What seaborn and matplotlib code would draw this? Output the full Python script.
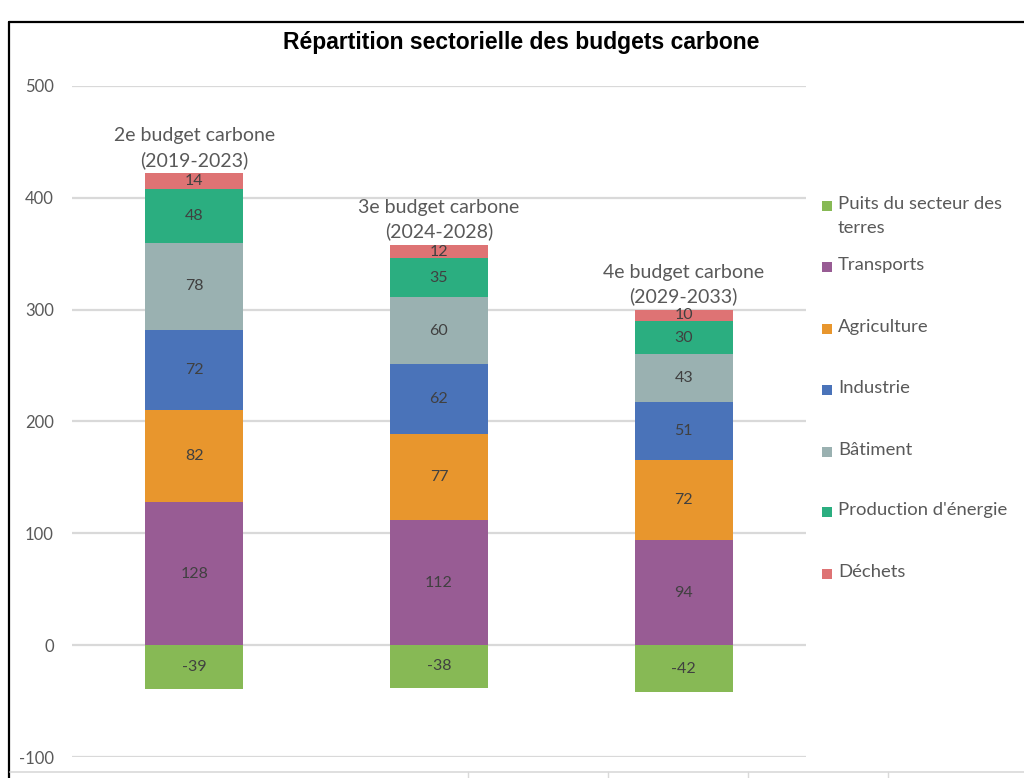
import matplotlib
matplotlib.use("Agg")
import matplotlib.pyplot as plt
from matplotlib.lines import Line2D
from matplotlib.patches import Rectangle
import numpy as np
import pandas as pd
import seaborn as sns

# ---- data -------------------------------------------------------------
budgets = ["2e budget carbone\n(2019-2023)",
           "3e budget carbone\n(2024-2028)",
           "4e budget carbone\n(2029-2033)"]
puits = [-39, -38, -42]
transports = [128, 112, 94]
agriculture = [82, 77, 72]
industrie = [72, 62, 51]
batiment = [78, 60, 43]
production = [48, 35, 30]
dechets = [14, 12, 10]

stack_names = ["Transports", "Agriculture", "Industrie", "Bâtiment",
               "Production d'énergie", "Déchets"]
stack_values = [transports, agriculture, industrie, batiment, production, dechets]
legend_labels = ["Puits du secteur des\nterres", "Transports", "Agriculture",
                 "Industrie", "Bâtiment", "Production d'énergie", "Déchets"]

colors = {
    "Puits": "#87B955",
    "Transports": "#985C94",
    "Agriculture": "#E8962D",
    "Industrie": "#4A73B9",
    "Bâtiment": "#9AB1B1",
    "Production d'énergie": "#2BAE80",
    "Déchets": "#DE7374",
}

# ---- figure -----------------------------------------------------------
sns.set_theme(style="white")
plt.rcParams["font.family"] = ["Lato", "DejaVu Sans"]
plt.rcParams["axes.unicode_minus"] = False

fig = plt.figure(figsize=(10.24, 7.78), dpi=100)
ax = fig.add_axes([72 / 1024, 21 / 778, (806 - 72) / 1024, (757 - 86) / 778])

df = pd.DataFrame({"budget": budgets})
cum = np.zeros(len(budgets))
cums = []
for vals in stack_values:
    bottoms = cum.copy()
    cum = cum + np.array(vals)
    cums.append((bottoms, cum.copy()))

# stacked bars: draw cumulative heights from the top segment down
for name, (bottoms, tops) in reversed(list(zip(stack_names, cums))):
    d = df.assign(value=tops)
    sns.barplot(data=d, x="budget", y="value", color=colors[name],
                saturation=1, width=0.4, errorbar=None, ax=ax,
                edgecolor="none", linewidth=0, zorder=3)

# negative land-sector sink
sns.barplot(data=df.assign(value=puits), x="budget", y="value",
            color=colors["Puits"], saturation=1, width=0.4, errorbar=None,
            ax=ax, edgecolor="none", linewidth=0, zorder=3)

# segment value labels
label_kw = dict(ha="center", va="center", fontsize=11.5, color="#404040", zorder=5)
for vals, (bottoms, tops) in zip(stack_values, cums):
    for i, v in enumerate(vals):
        ax.text(i, (bottoms[i] + tops[i]) / 2, f"{v}", **label_kw)
for i, v in enumerate(puits):
    ax.text(i, v / 2, f"{v}", **label_kw)

# budget names above each bar
totals = cums[-1][1]
for i, name in enumerate(budgets):
    ax.annotate(name, (i, totals[i]), xytext=(0, 3), textcoords="offset points",
                ha="center", va="bottom", fontsize=14, color="#595959",
                linespacing=1.45)

ax.set_xlim(-0.5, 2.5)
ax.set_ylim(-100, 500)
ax.set_yticks(range(-100, 501, 100))
ax.set_xlabel("")
ax.set_ylabel("")
ax.set_xticks([])
ax.grid(axis="y", color="#d9d9d9", linewidth=1.6, zorder=0)
ax.set_axisbelow(True)
for s in ax.spines.values():
    s.set_visible(False)
ax.tick_params(axis="y", length=0, pad=13, labelsize=12, labelcolor="#595959")

fig.text(521 / 1024, 1 - 42 / 778, "Répartition sectorielle des budgets carbone",
         ha="center", va="center", fontsize=16.5, fontweight="bold",
         color="#000000", family=["Liberation Sans", "DejaVu Sans"])

# legend entries
leg_keys = ["Puits", "Transports", "Agriculture", "Industrie", "Bâtiment",
            "Production d'énergie", "Déchets"]
leg_y = [206, 267, 329, 390, 452, 512, 574]
for key, label, y in zip(leg_keys, legend_labels, leg_y):
    fig.patches.append(Rectangle((822 / 1024, 1 - (y + 5) / 778), 10 / 1024, 10 / 778,
                                 transform=fig.transFigure, facecolor=colors[key],
                                 edgecolor="none"))
    fig.text(838 / 1024, 1 - (y - 10) / 778, label, ha="left", va="top",
             fontsize=13.3, color="#595959", linespacing=1.65)

# surrounding frame
fig.add_artist(Line2D([9 / 1024, 9 / 1024], [0, 1 - 22 / 778], color="black",
                      linewidth=1.6, transform=fig.transFigure))
fig.add_artist(Line2D([9 / 1024, 1], [1 - 22 / 778, 1 - 22 / 778], color="black",
                      linewidth=1.6, transform=fig.transFigure))
fig.add_artist(Line2D([10 / 1024, 1], [1 - 772 / 778, 1 - 772 / 778],
                      color="#d9d9d9", linewidth=1.2, transform=fig.transFigure))
for tx in [468, 608, 748, 888]:
    fig.add_artist(Line2D([tx / 1024, tx / 1024], [0, 1 - 772 / 778],
                          color="#d9d9d9", linewidth=1.0, transform=fig.transFigure))

fig.savefig("out.png", dpi=100)
